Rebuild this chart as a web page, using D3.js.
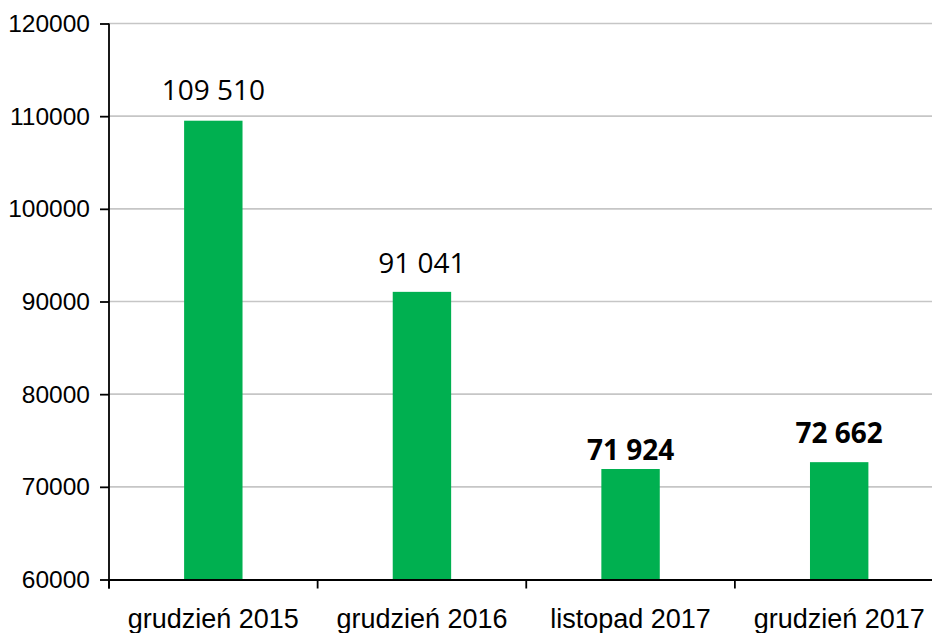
<!DOCTYPE html>
<html>
<head>
<meta charset="utf-8">
<script src="https://cdn.jsdelivr.net/npm/d3@7"></script>
<style>
    body { margin: 0; background: #fff; }
    svg { display: block; font-family: "Open Sans", "Noto Sans", sans-serif; }
    .grid line { stroke: #c6c6c6; stroke-width: 1.6; }
    .axis path, .axis line { stroke: #000; stroke-width: 1.8; }
    .y.axis text { font-size: 24.5px; fill: #000; }
    .x.axis text { font-size: 27px; fill: #000; }
    .label { font-size: 28px; fill: #000; text-anchor: middle; }
</style>
</head>
<body>
<div id="chart"></div>
<script>
// ... chart data
const categories = ['grudzień 2015', 'grudzień 2016', 'listopad 2017', 'grudzień 2017'];
const values = [109510, 91041, 71924, 72662];
const labels = ['109 510', '91 041', '71 924', '72 662'];
const boldLabel = [false, false, true, true];
const yTicks = [60000, 70000, 80000, 90000, 100000, 110000, 120000];

// ... label gap above the bar top (px)
const labelGap = [21, 19, 9, 19];

const width = 932, height = 633;

const x = d3.scaleBand()
    .domain(categories)
    .range([109, 943.5])
    .paddingInner(0.72)
    .paddingOuter(0.36);

const y = d3.scaleLinear()
    .domain([60000, 120000])
    .range([579.5, 23.5]);

const svg = d3.select('#chart').append('svg')
    .attr('width', width)
    .attr('height', height);

// ... gridlines
svg.append('g')
    .attr('class', 'grid')
    .selectAll('line')
    .data(yTicks.slice(1))
    .join('line')
    .attr('x1', 109)
    .attr('x2', 943.5)
    .attr('y1', d => y(d))
    .attr('y2', d => y(d));

// ... bars
svg.append('g')
    .selectAll('rect')
    .data(values)
    .join('rect')
    .attr('x', (d, i) => x(categories[i]))
    .attr('y', d => y(d))
    .attr('width', x.bandwidth())
    .attr('height', d => y(60000) - y(d))
    .attr('fill', '#00b050');

// ... data labels
svg.append('g')
    .selectAll('text')
    .data(values)
    .join('text')
    .attr('class', 'label')
    .attr('x', (d, i) => x(categories[i]) + x.bandwidth() / 2)
    .attr('y', (d, i) => y(d) - labelGap[i])
    .style('font-weight', (d, i) => boldLabel[i] ? 'bold' : 'normal')
    .text((d, i) => labels[i]);

// ... y axis
const yAxis = d3.axisLeft(y)
    .tickValues(yTicks)
    .tickSize(9)
    .tickSizeOuter(0)
    .tickPadding(10)
    .tickFormat(d3.format('d'));

svg.append('g')
    .attr('class', 'y axis')
    .attr('transform', 'translate(109,0)')
    .call(yAxis)
    .call(g => g.select('.domain').attr('d', 'M0,' + y(120000) + 'V' + (y(60000) + 9)));

// ... x axis (labels at band centres, ticks at band edges)
const xAxis = d3.axisBottom(x)
    .tickSize(0)
    .tickSizeOuter(0)
    .tickPadding(29)
    .tickFormat(d => d);

svg.append('g')
    .attr('class', 'x axis')
    .attr('transform', 'translate(0,' + y(60000) + ')')
    .call(xAxis)
    .call(g => g.selectAll('.tick text').attr('dy', '0.71em'));

svg.append('g')
    .attr('class', 'axis')
    .selectAll('line')
    .data(categories)
    .join('line')
    .attr('x1', d => x(d) - x.step() * x.paddingOuter())
    .attr('x2', d => x(d) - x.step() * x.paddingOuter())
    .attr('y1', y(60000))
    .attr('y2', y(60000) + 9);
</script>
</body>
</html>
